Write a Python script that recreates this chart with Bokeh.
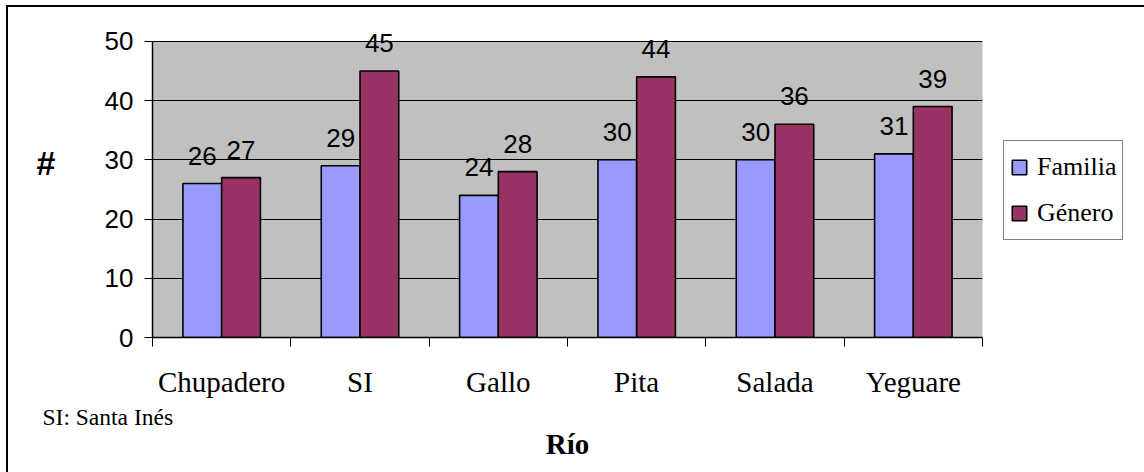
from bokeh.plotting import figure
from bokeh.models import (Range1d, FixedTicker, Legend, LegendItem, Title,
                          LinearAxis, BoxAnnotation)
from bokeh.core.properties import value
from bokeh.embed import file_html
from bokeh.resources import INLINE

# Number of families and genera recorded per river
rivers = ["Chupadero", "SI", "Gallo", "Pita", "Salada", "Yeguare"]
familia = [26, 29, 24, 30, 30, 31]
genero = [27, 45, 28, 44, 36, 39]
y_ticks = [0, 10, 20, 30, 40, 50]
Y_MAX = 50

BAR_W = 0.28
FAM_COLOR = "#9999FF"
GEN_COLOR = "#993366"
SANS = "Liberation Sans"
SERIF = "Liberation Serif, serif"

n = len(rivers)
centers = [i + 0.5 for i in range(n)]
x_fam = [c - BAR_W / 2 for c in centers]
x_gen = [c + BAR_W / 2 for c in centers]

# the frame reaches a little above 50 so the tallest value labels fit
p = figure(frame_width=830, frame_height=308,
           x_range=Range1d(0, n), y_range=Range1d(0, 52),
           output_backend="svg", toolbar_location=None,
           min_border_left=144, min_border_right=162,
           min_border_top=22, min_border_bottom=135,
           background_fill_color="white", border_fill_color="white",
           outline_line_color=None)

# thin black frame along the top and left of the whole chart
p.styles = {"border-top": "2px solid black", "border-left": "2px solid black",
            "margin-top": "5px", "margin-left": "6px"}

# grey plot area from 0 to 50
p.add_layout(BoxAnnotation(left=0, right=n, bottom=0, top=Y_MAX,
                           fill_color="#C0C0C0", fill_alpha=1,
                           line_color="#808080", line_width=1,
                           level="image"))

# bars
r_fam = p.vbar(x=x_fam, top=familia, width=BAR_W, fill_color=FAM_COLOR,
               line_color="black", line_width=1.6)
r_gen = p.vbar(x=x_gen, top=genero, width=BAR_W, fill_color=GEN_COLOR,
               line_color="black", line_width=1.6)

# value labels above each bar
for xs, vals in ((x_fam, familia), (x_gen, genero)):
    p.text(x=xs, y=vals, text=[str(v) for v in vals],
           text_font=value(SANS), text_font_size="26px", text_color="black",
           text_align="center", text_baseline="alphabetic", y_offset=-28)

# x axis: ticks between categories, labels centred in each category
xa = p.xaxis[0]
xa.ticker = FixedTicker(ticks=centers, minor_ticks=list(range(n + 1)))
xa.major_label_overrides = {c: name for c, name in zip(centers, rivers)}
xa.major_tick_line_color = None
xa.major_tick_out = 0
xa.major_tick_in = 0
xa.minor_tick_out = 9
xa.minor_tick_in = 0
xa.minor_tick_line_color = "black"
xa.axis_line_color = "black"
xa.axis_line_width = 1.5
xa.major_label_text_font = SERIF
xa.major_label_text_font_size = "29px"
xa.major_label_text_color = "black"
xa.major_label_standoff = 19

# y axis
ya = p.yaxis[0]
ya.ticker = FixedTicker(ticks=y_ticks)
ya.bounds = (0, Y_MAX)
ya.minor_tick_line_color = None
ya.major_tick_out = 8
ya.major_tick_in = 0
ya.major_tick_line_color = "black"
ya.axis_line_color = "black"
ya.axis_line_width = 1.5
ya.major_label_text_font = SANS
ya.major_label_text_font_size = "26px"
ya.major_label_text_color = "black"
ya.major_label_standoff = 11

# "#" axis title, placed as a single tick label on an outer left axis
title_axis = LinearAxis(ticker=FixedTicker(ticks=[29.5]),
                        major_label_overrides={29.5: "#"},
                        axis_line_color=None, major_tick_line_color=None,
                        minor_tick_line_color=None,
                        major_tick_out=0, major_tick_in=0,
                        major_label_standoff=46,
                        major_label_text_font=SANS,
                        major_label_text_font_style="bold",
                        major_label_text_font_size="34px",
                        major_label_text_color="black")
p.add_layout(title_axis, "left")

p.xgrid.grid_line_color = None
p.ygrid.ticker = FixedTicker(ticks=y_ticks)
p.ygrid.grid_line_color = "black"
p.ygrid.grid_line_width = 1

# footnote and x axis title below the axis
p.add_layout(Title(text="SI: Santa Inés", align="left", offset=-110,
                   text_font=SERIF, text_font_size="23.5px",
                   text_font_style="normal", text_color="black",
                   standoff=3), "below")
p.add_layout(Title(text="Río", align="center", text_font=SERIF,
                   text_font_size="29px", text_font_style="bold",
                   text_color="black", standoff=-12), "below")

# legend
legend = Legend(items=[LegendItem(label="Familia", renderers=[r_fam]),
                       LegendItem(label="Género", renderers=[r_gen])],
                location=(21, 97), orientation="vertical",
                border_line_color="black", border_line_width=1,
                background_fill_color="white", background_fill_alpha=1,
                label_text_font=SERIF, label_text_font_size="26px",
                label_text_color="black",
                glyph_width=18, glyph_height=18, label_standoff=9,
                label_height=40, padding=6, spacing=6, margin=0)
p.add_layout(legend, "right")

open("out.html", "w").write(file_html(p, INLINE))
